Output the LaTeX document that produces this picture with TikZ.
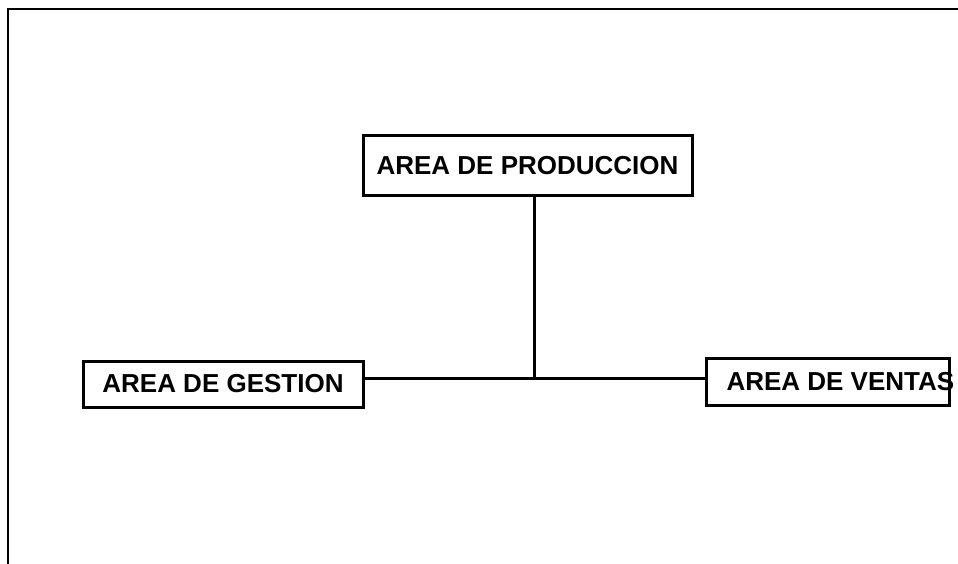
\documentclass[tikz,border=0pt]{standalone}
\usepackage{fontspec}
\setmainfont{Liberation Sans}
\usetikzlibrary{positioning, calc}

\begin{document}
\begin{tikzpicture}[
    x=1pt, y=-1pt,
    % Estilos de Nodos
    area_box/.style={rectangle, draw=black, line width=3pt, fill=white, inner ysep=0pt,
                     font=\fontsize{26pt}{30pt}\selectfont\bfseries},
    % Estilos de Lineas
    link/.style={draw=black, line width=3pt},
    frame_line/.style={draw=black, line width=2pt}
]
\useasboundingbox (0,0) rectangle (958,564);

% --- MARCO ---
\draw[frame_line] (8,564) -- (8,9) -- (958,9);

% --- AREAS ---
\node[area_box, minimum width=329pt, minimum height=60pt] (produccion) at (527.5,166) {AREA DE PRODUCCION};
\node[area_box, minimum width=280pt, minimum height=46pt] (gestion) at (223,384) {AREA DE GESTION};
\node[area_box, anchor=west, inner xsep=20pt, minimum height=47pt] (ventas) at (705,381.5)
    {\makebox[203pt][l]{AREA DE VENTAS}};

% --- CONEXIONES ---
\coordinate (cruce) at (534,378);
\draw[link] (produccion.south -| cruce) -- (cruce);
\draw[link] (gestion.east |- cruce) -- (ventas.west |- cruce);

\end{tikzpicture}
\end{document}
